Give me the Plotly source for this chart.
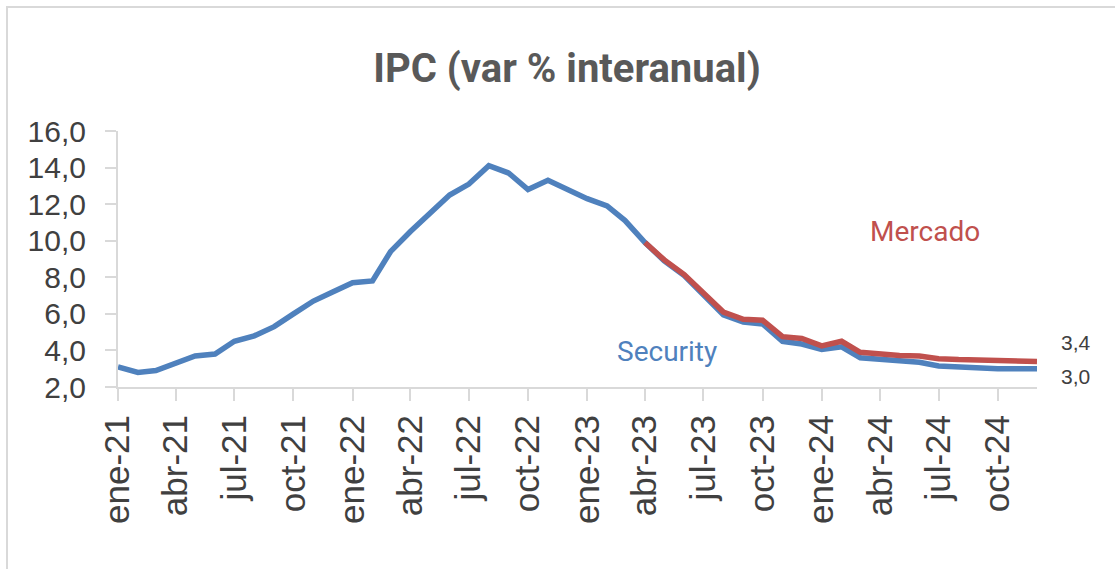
import plotly.graph_objects as go
import pandas as pd

# ---- data ----
months = pd.date_range("2021-01-01", "2024-12-01", freq="MS").strftime("%Y-%m-%d").tolist()

security = [3.1, 2.8, 2.9, 3.3, 3.7, 3.8, 4.5, 4.8, 5.3, 6.0, 6.7, 7.2,
            7.7, 7.8, 9.4, 10.5, 11.5, 12.5, 13.1, 14.1, 13.7, 12.8, 13.3, 12.8,
            12.3, 11.9, 11.1, 9.9, 8.9, 8.1, 7.05, 5.95, 5.55, 5.45, 4.5, 4.35,
            4.05, 4.2, 3.6, 3.5, 3.45, 3.35, 3.15, 3.1, 3.0, 3.0, 3.0, 3.0]

mercado_months = months[27:]
mercado = [9.9, 8.95, 8.15, 7.15, 6.1, 5.7, 5.65, 4.75, 4.65,
           4.25, 4.5, 3.9, 3.8, 3.72, 3.7, 3.55, 3.5, 3.48, 3.45, 3.43, 3.4]

tick_vals = months[::3]
tick_text = ["ene-21", "abr-21", "jul-21", "oct-21",
             "ene-22", "abr-22", "jul-22", "oct-22",
             "ene-23", "abr-23", "jul-23", "oct-23",
             "ene-24", "abr-24", "jul-24", "oct-24"]

title_text = "IPC (var % interanual)"
BLUE = "#4F81BD"
RED = "#C0504D"
AXIS = "#D9D9D9"
TXT = "#404040"

fig = go.Figure()
fig.add_trace(go.Scatter(x=months, y=security, mode="lines", name="Security",
                         line=dict(color=BLUE, width=5.5), showlegend=False))
fig.add_trace(go.Scatter(x=mercado_months, y=mercado, mode="lines", name="Mercado",
                         line=dict(color=RED, width=5.5), showlegend=False))

# series labels
fig.add_annotation(x="2023-05-05", y=3.95, text="Security", showarrow=False,
                   font=dict(family="Roboto", size=28, color=BLUE), xanchor="center", yanchor="middle")
fig.add_annotation(x="2024-06-10", y=10.5, text="Mercado", showarrow=False,
                   font=dict(family="Roboto", size=28, color=RED), xanchor="center", yanchor="middle")
# end value labels
fig.add_annotation(x=mercado_months[-1], y=mercado[-1], text=f"{mercado[-1]:.1f}".replace(".", ","),
                   showarrow=False, xanchor="left", yanchor="middle", xshift=22, yshift=19,
                   font=dict(family="Liberation Sans, Arial", size=21, color=TXT))
fig.add_annotation(x=months[-1], y=security[-1], text=f"{security[-1]:.1f}".replace(".", ","),
                   showarrow=False, xanchor="left", yanchor="middle", xshift=22, yshift=-8,
                   font=dict(family="Liberation Sans, Arial", size=21, color=TXT))

# outer frame
L, R, T, B = 118, 1037, 131, 387
W, H = R - L, B - T
fig.add_shape(type="rect", xref="paper", yref="paper",
              x0=(7 - L) / W, x1=(1125 - L) / W, y0=(B - 580) / H, y1=(B - 7) / H,
              line=dict(color=AXIS, width=2), fillcolor="rgba(0,0,0,0)", layer="below")

fig.update_layout(
    width=1115, height=569,
    margin=dict(l=L, r=1115 - R, t=T, b=569 - B, autoexpand=False),
    paper_bgcolor="white", plot_bgcolor="white",
    separators=",.",
    title=dict(text=f"<b>{title_text}</b>", x=567 / 1115, xref="container", xanchor="center",
               y=1 - 68 / 569, yref="container", yanchor="middle",
               font=dict(family="Roboto", size=40, color="#595959")),
    xaxis=dict(range=[months[0], months[-1]], tickvals=tick_vals, ticktext=tick_text,
               tickangle=-90, showgrid=False, zeroline=False,
               showline=True, linecolor=AXIS, linewidth=2,
               ticks="outside", ticklen=12, tickwidth=2, tickcolor=AXIS,
               tickfont=dict(family="Liberation Sans, Arial", size=35, color=TXT),
               ticklabelstandoff=0),
    yaxis=dict(range=[2, 16], dtick=2, tick0=2, tickformat=".1f",
               showgrid=False, zeroline=False,
               showline=True, linecolor=AXIS, linewidth=2,
               ticks="outside", ticklen=11, tickwidth=2, tickcolor=AXIS,
               tickfont=dict(family="Liberation Sans, Arial", size=30, color=TXT),
               ticklabelstandoff=13),
)

fig.write_html("out.html", config={"displayModeBar": False},
               post_script="document.body.style.margin='0';document.body.style.overflow='hidden';")
